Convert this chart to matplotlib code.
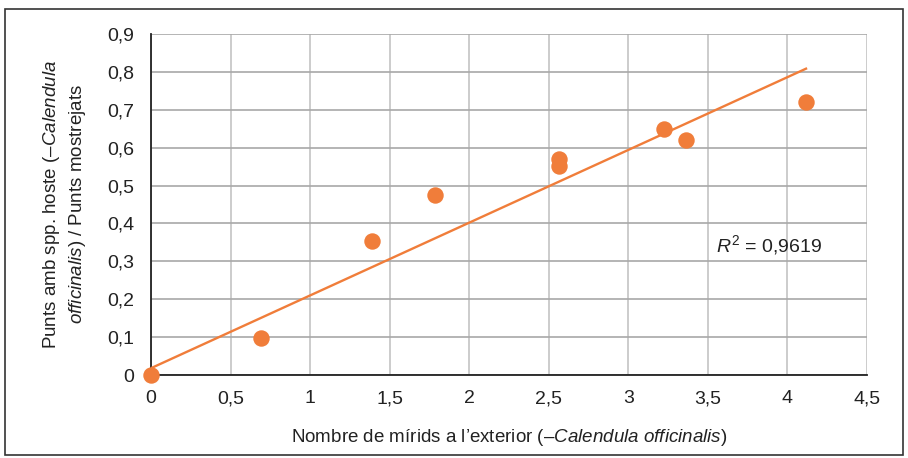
import numpy as np
import matplotlib.pyplot as plt
from matplotlib.ticker import FuncFormatter, MultipleLocator
from matplotlib.patches import Rectangle

plt.rcParams['font.family'] = ['Liberation Sans', 'DejaVu Sans']
plt.rcParams['mathtext.fontset'] = 'custom'
plt.rcParams['mathtext.rm'] = 'Liberation Sans'
plt.rcParams['mathtext.it'] = 'Liberation Sans:italic'

# data
mirids = [0.0, 0.69, 1.39, 1.785, 2.565, 2.565, 3.225, 3.36, 4.117]
punts = [0.0, 0.098, 0.354, 0.475, 0.57, 0.552, 0.649, 0.62, 0.72]
# trend line as drawn in the original
trend_intercept = 0.018
trend_slope = 0.192
r2_text = '0,9619'

orange = '#F07D3A'
ink = '#222222'

fig = plt.figure(figsize=(9.08, 4.58), dpi=100)
ax = fig.add_axes([0.1663, 0.1812, 0.7885, 0.7446])

xl = np.array([0, max(mirids)])
ax.plot(xl, trend_intercept + trend_slope * xl, color=orange, lw=1.7, zorder=3)
ax.scatter(mirids, punts, s=140, color=orange, zorder=4, clip_on=False, linewidths=0)

ax.set_xlim(0, 4.5)
ax.set_ylim(0, 0.9)
ax.xaxis.set_major_locator(MultipleLocator(0.5))
ax.yaxis.set_major_locator(MultipleLocator(0.1))
fmt = FuncFormatter(lambda v, p: ('%g' % round(v, 2)).replace('.', ','))
ax.xaxis.set_major_formatter(fmt)
ax.yaxis.set_major_formatter(fmt)

ax.grid(axis='x', color='#c4c4c4', lw=1.2)
ax.grid(axis='y', color='#a8a8a8', lw=1.2)
ax.set_axisbelow(True)
for s in ['top', 'right']:
    ax.spines[s].set_visible(False)
for s in ['left', 'bottom']:
    ax.spines[s].set_color(ink)
    ax.spines[s].set_linewidth(1.3)
ax.tick_params(length=0, labelsize=14, colors=ink)
ax.tick_params(axis='y', pad=12)
ax.tick_params(axis='x', pad=11)

ax.set_xlabel(r'Nombre de mírids a l’exterior (–$\mathit{Calendula\ officinalis}$)',
              fontsize=13.5, color=ink, labelpad=14)
ax.set_ylabel('Punts amb spp. hoste (–$\\mathit{Calendula}$\n'
              '$\\mathit{officinalis}$) / Punts mostrejats',
              fontsize=13.5, color=ink, labelpad=14, linespacing=1.35)

ax.text(3.55, 0.343, '$\\mathit{R}^2$ = ' + r2_text, fontsize=14, color=ink,
        ha='left', va='center')

fig.patches.append(Rectangle((0.006, 0.006), 0.988, 0.975, transform=fig.transFigure,
                             fill=False, edgecolor='#333333', lw=1.2))

fig.savefig('out.png', dpi=100)
